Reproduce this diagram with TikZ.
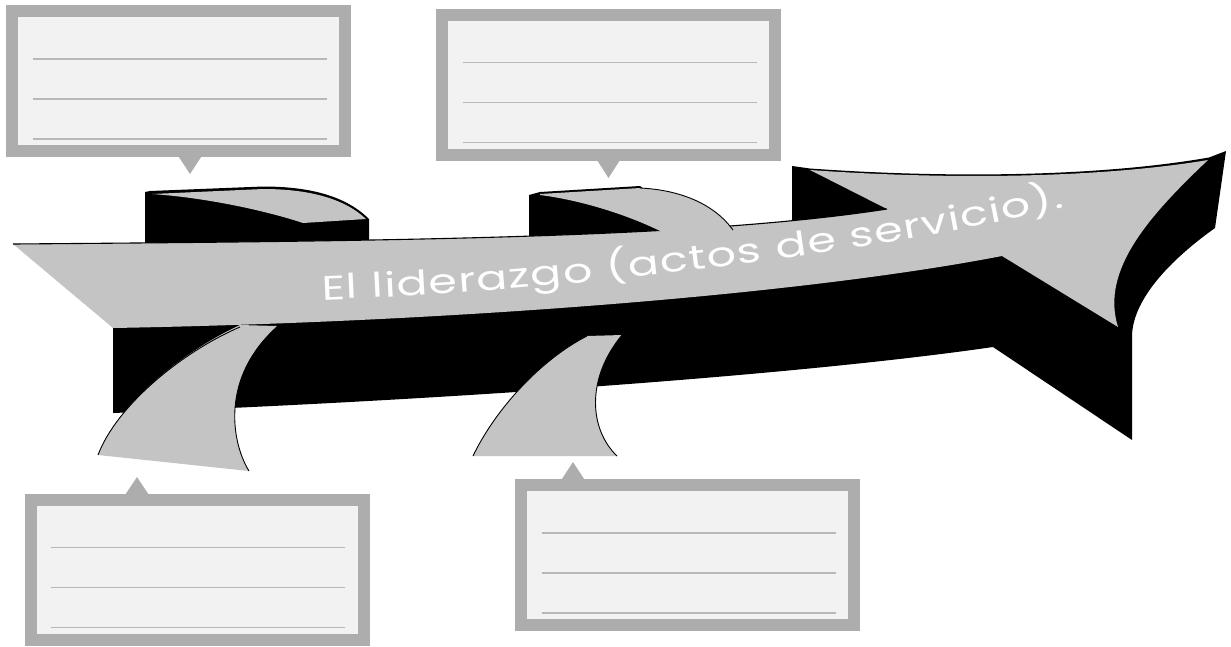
\documentclass[tikz,border=0pt]{standalone}
\usepackage{fontspec}
\newfontfamily\arrowfont{Poppins}[FakeStretch=1.35]
\usetikzlibrary{decorations.text,calc}
\definecolor{boxframe}{HTML}{ADADAD}
\definecolor{boxfill}{HTML}{F2F2F2}
\definecolor{ruleline}{HTML}{B8B8B8}
\definecolor{ribbon}{HTML}{C4C4C4}
\tikzset{
  notebox/.style={draw=boxframe, line width=12pt, fill=boxfill, minimum width=333pt,
    minimum height=140pt, inner sep=0pt, outer sep=0pt},
  rule/.style={draw=ruleline, line width=1.3pt},
  pointer/.style={fill=boxframe},
  face/.style={fill=ribbon},
  side/.style={fill=black},
  edge/.style={draw=black, line width=1.1pt},
  thinedge/.style={draw=black, line width=0.9pt},
}
\begin{document}
\begin{tikzpicture}[x=1pt,y=-1pt]
\fill[white] (0,0) rectangle (1231,646);
\useasboundingbox (0,0) rectangle (1231,646);

% ---------- note boxes ----------
\node[notebox] (b1) at (178.5,81) {};
\node[notebox] (b2) at (608.5,84.5) {};
\node[notebox] (b3) at (197,569.5) {};
\node[notebox] (b4) at (687.5,555) {};
\foreach \b in {b1,b2,b3,b4}{
  \foreach \dy in {-22,18,58}{
    \draw[rule] ($(\b.center)+(-146,\dy)$) -- ($(\b.center)+(148,\dy)$);
  }
}
% pointers
\fill[pointer] ($(b1.center)+(-3.5,70)$) -- ($(b1.center)+(26.5,70)$) -- ($(b1.center)+(11.5,93)$) -- cycle;
\fill[pointer] ($(b2.center)+(-15,70)$) -- ($(b2.center)+(15,70)$) -- ($(b2.center)+(0,93.5)$) -- cycle;
\fill[pointer] ($(b3.center)+(-75,-70)$) -- ($(b3.center)+(-45,-70)$) -- ($(b3.center)+(-60,-92.5)$) -- cycle;
\fill[pointer] ($(b4.center)+(-129.5,-70)$) -- ($(b4.center)+(-99.5,-70)$) -- ($(b4.center)+(-114.5,-93)$) -- cycle;

% ---------- 3D arrow: black sides ----------
\fill[side] (113,328) -- (113,413) .. controls (450,400) and (800,375) .. (993,347)
  -- (1132,440) -- (1132,337) .. controls (1132,300) and (1170,260) .. (1215,228)
  -- (1226,151) -- (1209,157.5) .. controls (1100,176.5) and (950,178.5) .. (810,168.5)
  -- (792,166) -- (792,224) -- cycle;
\fill[side] (145,192) -- (145,247) -- (369,243) -- (369,219)
  .. controls (347,197) and (312,186.5) .. (263,186.5) -- (150,191) -- cycle;
\fill[side] (529,195) -- (529,240) -- (700,236) -- (640,186) -- (540,192) -- cycle;

% ---------- grey top faces ----------
\fill[face] (13,244) .. controls (400,241) and (700,238) .. (887,209) -- (810,170)
  .. controls (950,180) and (1100,178) .. (1208,160)
  .. controls (1150,215) and (1100,270) .. (1118,327) -- (1002,256)
  .. controls (800,295) and (450,322) .. (113,328) -- cycle;
\draw[edge] (13,244) .. controls (400,241) and (700,238) .. (887,209);

\fill[face] (152,194) -- (263,189) .. controls (310,189) and (345,199) .. (366,219)
  -- (303,223) .. controls (270,212) and (210,198) .. (152,194) -- cycle;
\fill[face] (540,194) -- (640,188) .. controls (682,190) and (715,205) .. (733,231)
  -- (668,235) .. controls (630,215) and (580,200) .. (540,195) -- cycle;
\draw[thinedge] (640,188) .. controls (682,190) and (715,205) .. (733,230);

% lower fins
\fill[face] (240,325) .. controls (182,352) and (117,405) .. (98,455) -- (249,471)
  .. controls (230,440) and (222,375) .. (277,326) -- cycle;
\draw[thinedge] (98,455) .. controls (117,405) and (182,352) .. (240,327);
\draw[thinedge] (249,471) .. controls (230,440) and (222,375) .. (277,328);
\fill[face] (587,336) .. controls (540,360) and (495,410) .. (473,456) -- (617,456)
  .. controls (590,430) and (585,380) .. (622,335) -- cycle;
\draw[thinedge] (473,456) .. controls (495,410) and (540,360) .. (587,336);
\draw[thinedge] (617,456) .. controls (590,430) and (585,380) .. (622,335);

% ---------- label ----------
\path[decorate, decoration={text along path,
    text={|\arrowfont\fontsize{34}{34}\selectfont|El liderazgo (actos de servicio).},
    text color=white, text align={fit to path}}]
  (322,300) .. controls (580,290) and (850,256) .. (1064,208);
\end{tikzpicture}
\end{document}
